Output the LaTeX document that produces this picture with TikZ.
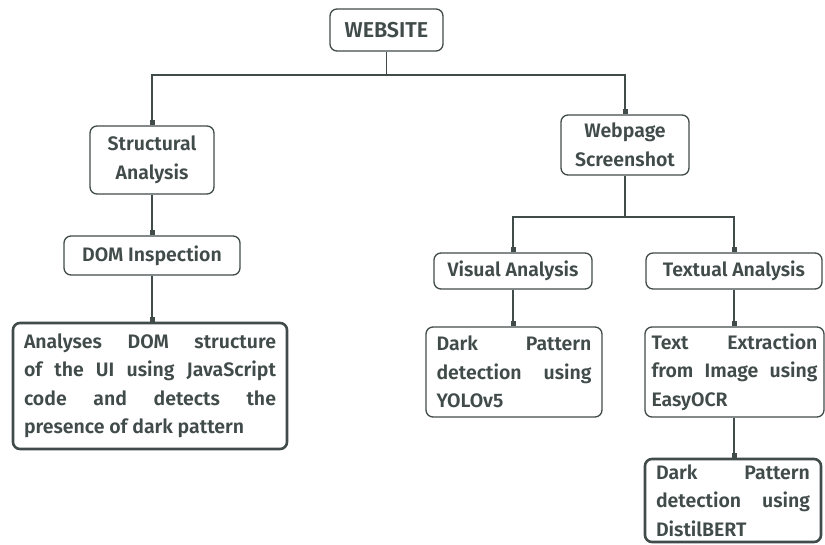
\documentclass[tikz,border=0pt]{standalone}
\usepackage{fontspec}
\setmainfont{Fira Sans}[UprightFont=* SemiBold, BoldFont=* Bold]
\usetikzlibrary{arrows.meta}
\definecolor{ink}{HTML}{414C4A}
\tikzset{
 box/.style={draw=ink, line width=1.3pt, rounded corners=7pt, text=ink, font=\fontsize{19.5}{28.5}\selectfont, inner sep=0pt, align=center},
 bigbox/.style={box, line width=2.6pt},
 wire/.style={draw=ink, line width=1.3pt},
 conn/.style={wire, -{Square[length=5pt,width=5pt]}},
}
\begin{document}
\begin{tikzpicture}[x=1pt,y=-1pt]
\fill[white] (0,0) rectangle (825,544);
\useasboundingbox (0,0) rectangle (825,544);
\node[box, minimum width=113, minimum height=42, font=\fontsize{21.5}{28}\selectfont] (web) at (386.5,30) {WEBSITE};
\node[box, minimum width=124, minimum height=68] (sa) at (152,160) {Structural\\Analysis};
\node[box, minimum width=176, minimum height=39] (dom) at (152,255.5) {DOM Inspection};
\node[bigbox, minimum width=274, minimum height=126, text width=252, align=justify] (dsc) at (150,386) {Analyses DOM structure\linebreak of the UI using JavaScript\linebreak code and detects the\linebreak presence of dark pattern};
\node[box, minimum width=128, minimum height=60] (ws) at (625,145) {Webpage\\Screenshot};
\node[box, minimum width=158, minimum height=36] (va) at (513,271) {Visual Analysis};
\node[box, minimum width=176, minimum height=36] (ta) at (734,271) {Textual Analysis};
\node[box, minimum width=176, minimum height=90, text width=155, align=justify] (yolo) at (514,372) {Dark Pattern\linebreak detection using\linebreak YOLOv5};
\node[box, minimum width=179, minimum height=90, text width=166, align=justify] (tex) at (734.5,372) {Text Extraction\linebreak from Image using\linebreak EasyOCR};
\node[bigbox, minimum width=176, minimum height=83, text width=154, align=justify] (bert) at (733,500.5) {Dark Pattern\linebreak detection using\linebreak DistilBERT};
\coordinate (j1) at (386.5,75);
\coordinate (j2) at (625,217);
\draw[wire] (web.south) -- (j1);
\draw[conn] (j1) -| (sa.north);
\draw[conn] (j1) -| (ws.north);
\draw[conn] (sa.south) -- (dom.north);
\draw[conn] (dom.south) -- (dom.south |- dsc.north);
\draw[wire] (ws.south) -- (j2);
\draw[conn] (j2) -| (va.north);
\draw[conn] (j2) -| (ta.north);
\draw[conn] (va.south) -- (va.south |- yolo.north);
\draw[conn] (ta.south) -- (ta.south |- tex.north);
\draw[conn] (ta.south |- tex.south) -- (ta.south |- bert.north);
\end{tikzpicture}
\end{document}
